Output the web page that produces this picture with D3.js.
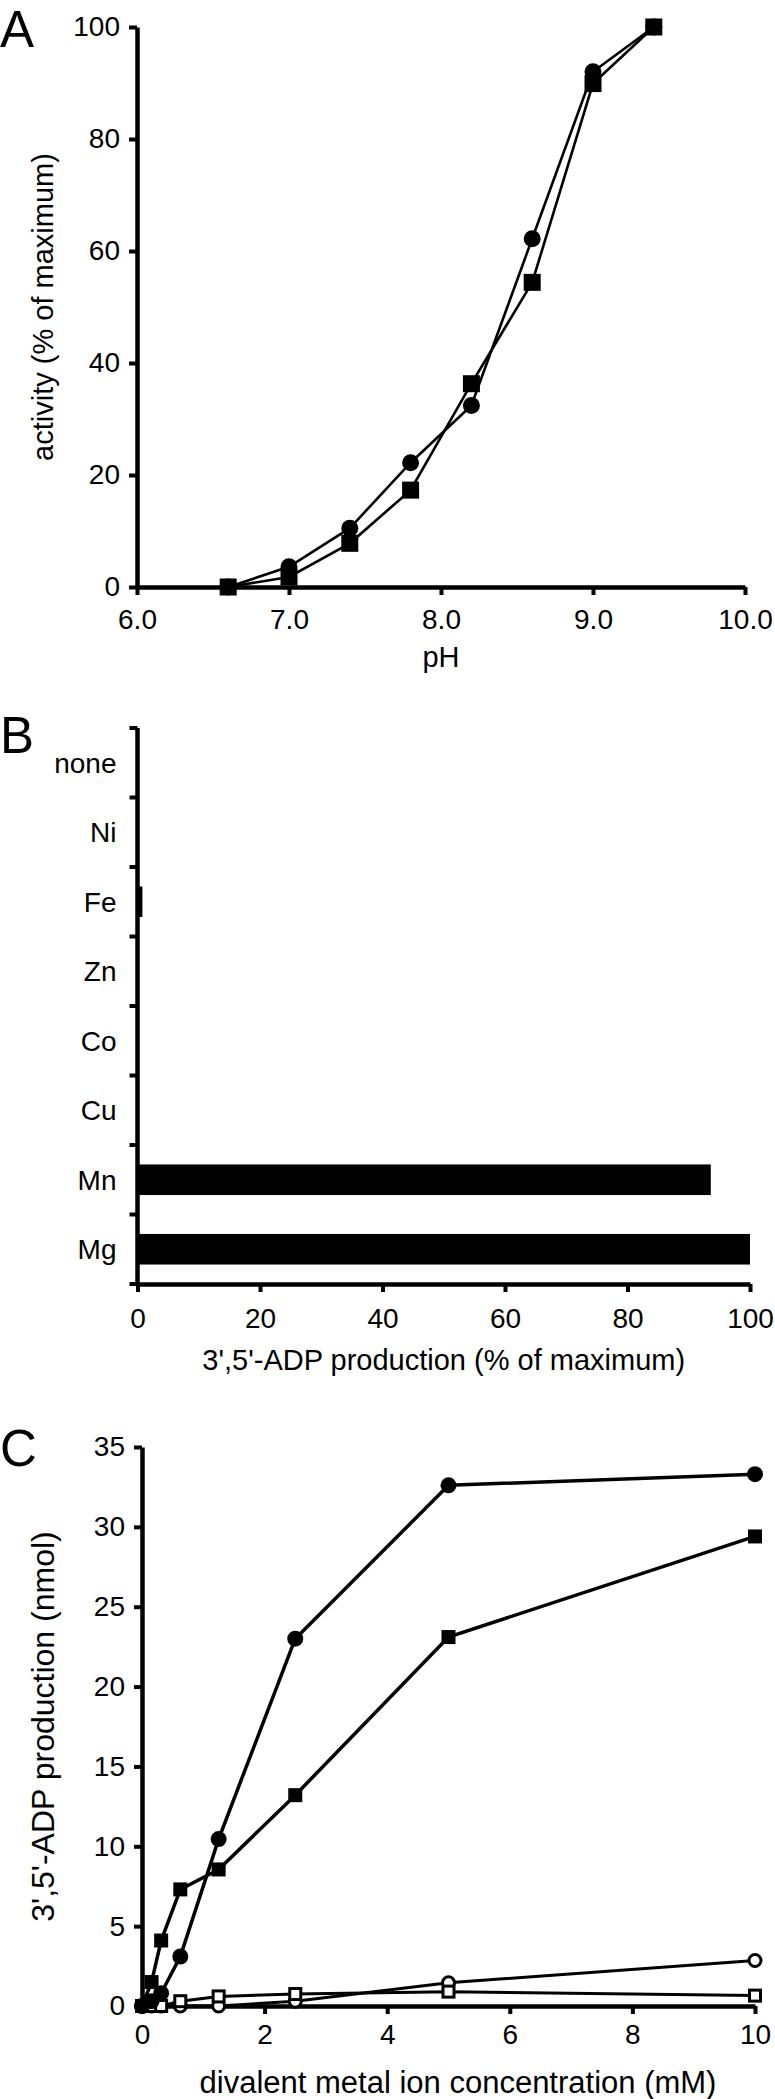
<!DOCTYPE html>
<html>
<head>
<meta charset="utf-8">
<script src="https://cdn.jsdelivr.net/npm/d3@7"></script>
<style>
  body { margin: 0; background: #fff; }
  svg { display: block; font-family: "Liberation Sans", Arial, sans-serif; }
</style>
</head>
<body>
<svg id="fig" width="775" height="2099"></svg>
<script>
// Panel A: pH profile
const phValues = [6.6, 7.0, 7.4, 7.8, 8.2, 8.6, 9.0, 9.4];
const phCircles = [0, 3.6, 10.5, 22.2, 32.4, 62.2, 92, 100];
const phSquares = [0, 1.8, 7.8, 17.3, 36.3, 54.4, 89.9, 100];
const phTicks = [6, 7, 8, 9, 10];
const activityTicks = [0, 20, 40, 60, 80, 100];

// Panel B: metal ions
const metals = ["none", "Ni", "Fe", "Zn", "Co", "Cu", "Mn", "Mg"];
const metalValues = [0, 0, 0.8, 0, 0, 0, 93.6, 100];
const productionTicks = [0, 20, 40, 60, 80, 100];

// Panel C: metal concentration
const concentrations = [0, 0.156, 0.3125, 0.625, 1.25, 2.5, 5, 10];
const filledCircles = [0, 0.3, 0.8, 3.1, 10.45, 23.0, 32.6, 33.3];
const filledSquares = [0, 1.5, 4.1, 7.3, 8.55, 13.2, 23.1, 29.4];
const openCircles = [0, 0, 0, 0, 0, 0.3, 1.45, 2.85];
const openSquares = [0, 0, 0, 0.3, 0.6, 0.75, 0.9, 0.65];
const concTicks = [0, 2, 4, 6, 8, 10];
const nmolTicks = [0, 5, 10, 15, 20, 25, 30, 35];

const svg = d3.select("#fig");
const tickFont = 28;
const axisWidth = 4.5;

function styleAxis(g) {
  g.select(".domain").attr("stroke", "#000").attr("stroke-width", axisWidth);
  g.selectAll(".tick line").attr("stroke", "#000").attr("stroke-width", 4);
  g.selectAll(".tick text")
    .attr("fill", "#000")
    .attr("font-size", tickFont)
    .attr("font-family", "Liberation Sans, Arial, sans-serif");
}

function panelLetter(txt, x, y) {
  svg.append("text")
    .attr("x", x).attr("y", y)
    .attr("font-size", 51)
    .attr("fill", "#000")
    .text(txt);
}

// ---------------- Panel A ----------------
{
  const x = d3.scaleLinear().domain([6, 10]).range([137, 745]);
  const y = d3.scaleLinear().domain([0, 100]).range([587, 27]);
  const g = svg.append("g");

  g.append("g")
    .attr("transform", `translate(0,${y(0)})`)
    .call(d3.axisBottom(x).tickValues(phTicks).tickFormat(d3.format(".1f"))
      .tickSize(8).tickSizeOuter(0).tickPadding(14))
    .call(styleAxis);
  g.append("g")
    .attr("transform", `translate(${x(6)},0)`)
    .call(d3.axisLeft(y).tickValues(activityTicks).tickSize(8).tickSizeOuter(0).tickPadding(9))
    .call(styleAxis);

  const line = d3.line().x((d, i) => x(phValues[i])).y(d => y(d));
  [phCircles, phSquares].forEach(s => {
    g.append("path").attr("d", line(s))
      .attr("fill", "none").attr("stroke", "#000").attr("stroke-width", 2.6);
  });
  g.selectAll(".ca").data(phCircles).join("circle")
    .attr("cx", (d, i) => x(phValues[i])).attr("cy", d => y(d))
    .attr("r", 8.5).attr("fill", "#000");
  g.selectAll(".sa").data(phSquares).join("rect")
    .attr("x", (d, i) => x(phValues[i]) - 8.5).attr("y", d => y(d) - 8.5)
    .attr("width", 17).attr("height", 17).attr("fill", "#000");

  g.append("text").attr("x", (x(6) + x(10)) / 2).attr("y", 667)
    .attr("text-anchor", "middle").attr("font-size", 29).text("pH");
  g.append("text")
    .attr("transform", `translate(53,${(y(0) + y(100)) / 2}) rotate(-90)`)
    .attr("text-anchor", "middle").attr("font-size", 29)
    .text("activity (% of maximum)");

  panelLetter("A", 0, 47);
}

// ---------------- Panel B ----------------
{
  const x = d3.scaleLinear().domain([0, 100]).range([137.5, 750]);
  const y = d3.scaleBand().domain(metals).range([728, 1284]).paddingInner(0.56).paddingOuter(0.28);
  const g = svg.append("g");

  g.selectAll("rect").data(metalValues).join("rect")
    .attr("x", x(0))
    .attr("y", (d, i) => y(metals[i]))
    .attr("width", d => x(d) - x(0))
    .attr("height", y.bandwidth())
    .attr("fill", "#000");

  g.append("g")
    .attr("transform", `translate(0,${y.range()[1]})`)
    .call(d3.axisBottom(x).tickValues(productionTicks).tickSize(8).tickSizeOuter(0).tickPadding(16))
    .call(styleAxis);

  // category axis: ticks on band boundaries, labels centred in bands
  const yAxis = g.append("g").attr("transform", `translate(${x(0)},0)`);
  yAxis.append("line")
    .attr("x1", 0).attr("x2", 0)
    .attr("y1", y.range()[0]).attr("y2", y.range()[1])
    .attr("stroke", "#000").attr("stroke-width", axisWidth);
  const bounds = d3.range(metals.length + 1).map(i => y.range()[0] + i * y.step());
  yAxis.selectAll(".bt").data(bounds).join("line")
    .attr("x1", -8).attr("x2", 0)
    .attr("y1", d => d).attr("y2", d => d)
    .attr("stroke", "#000").attr("stroke-width", 4);
  yAxis.selectAll(".bl").data(metals).join("text")
    .attr("x", -21)
    .attr("y", d => y(d) + y.bandwidth() / 2)
    .attr("dy", "0.36em")
    .attr("text-anchor", "end")
    .attr("font-size", tickFont)
    .text(d => d);

  g.append("text").attr("x", (x(0) + x(100)) / 2).attr("y", 1370)
    .attr("text-anchor", "middle").attr("font-size", 29)
    .text("3',5'-ADP production (% of maximum)");

  panelLetter("B", 0, 753);
}

// ---------------- Panel C ----------------
{
  const x = d3.scaleLinear().domain([0, 10]).range([142, 755]);
  const y = d3.scaleLinear().domain([0, 35]).range([2006, 1447]);
  const g = svg.append("g");

  g.append("g")
    .attr("transform", `translate(0,${y(0)})`)
    .call(d3.axisBottom(x).tickValues(concTicks).tickSize(8).tickSizeOuter(0).tickPadding(10))
    .call(styleAxis);
  g.append("g")
    .attr("transform", `translate(${x(0)},0)`)
    .call(d3.axisLeft(y).tickValues(nmolTicks).tickSize(8).tickSizeOuter(0).tickPadding(9))
    .call(styleAxis);

  const line = d3.line().x((d, i) => x(concentrations[i])).y(d => y(d));
  const series = [
    { values: openCircles, shape: "circle", filled: false },
    { values: openSquares, shape: "square", filled: false },
    { values: filledCircles, shape: "circle", filled: true },
    { values: filledSquares, shape: "square", filled: true }
  ];
  series.forEach(s => {
    g.append("path").attr("d", line(s.values))
      .attr("fill", "none").attr("stroke", "#000")
      .attr("stroke-width", s.filled ? 3.5 : 3);
  });
  series.forEach(s => {
    const sel = g.append("g").selectAll("*").data(s.values);
    if (s.shape === "circle") {
      sel.join("circle")
        .attr("cx", (d, i) => x(concentrations[i])).attr("cy", d => y(d))
        .attr("r", s.filled ? 8 : 6)
        .attr("fill", s.filled ? "#000" : "#fff")
        .attr("stroke", "#000").attr("stroke-width", s.filled ? 0 : 3);
    } else {
      const sz = s.filled ? 14 : 11;
      sel.join("rect")
        .attr("x", (d, i) => x(concentrations[i]) - sz / 2).attr("y", d => y(d) - sz / 2)
        .attr("width", sz).attr("height", sz)
        .attr("fill", s.filled ? "#000" : "#fff")
        .attr("stroke", "#000").attr("stroke-width", s.filled ? 0 : 3);
    }
  });

  g.append("text").attr("x", 458).attr("y", 2093)
    .attr("text-anchor", "middle").attr("font-size", 31)
    .text("divalent metal ion concentration (mM)");
  g.append("text")
    .attr("transform", `translate(54,${(y(0) + y(35)) / 2}) rotate(-90)`)
    .attr("text-anchor", "middle").attr("font-size", 32)
    .text("3',5'-ADP production (nmol)");

  panelLetter("C", 0, 1466);
}
</script>
</body>
</html>
